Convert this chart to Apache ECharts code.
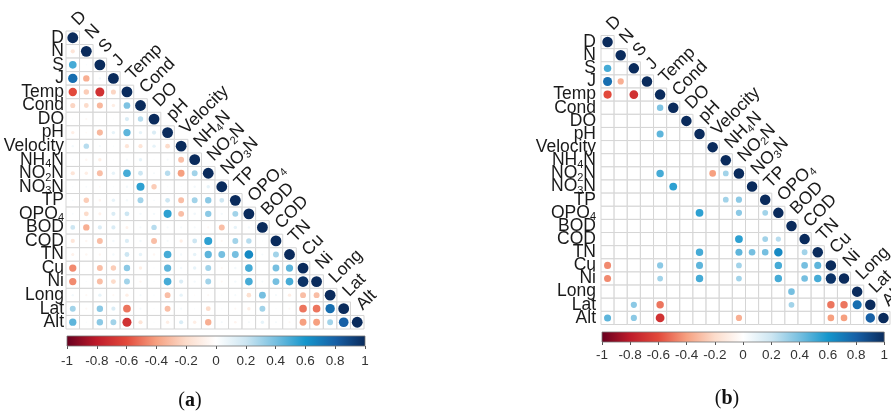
<!DOCTYPE html>
<html><head><meta charset="utf-8">
<script src="https://cdn.jsdelivr.net/npm/echarts@6/dist/echarts.min.js"></script>
<style>html,body{margin:0;padding:0;background:#fff}#c{width:891px;height:416px}</style>
</head><body><div id="c"></div>
<script>
// ---- data ----
const variables = ['D','N','S','J','Temp','Cond','DO','pH','Velocity','NH4N','NO2N','NO3N','TP','OPO4','BOD','COD','TN','Cu','Ni','Long','Lat','Alt'];

// (a) all correlations, lower triangle incl. diagonal (row i: columns 0..i)
const corrA = [
  [1],
  [-0.15, 1],
  [0.5, 0.02, 1],
  [0.75, -0.35, 0.05, 1],
  [-0.6, -0.25, -0.7, -0.22, 1],
  [-0.22, -0.2, -0.32, -0.1, 0.38, 1],
  [0.02, -0.04, 0.02, 0.02, 0.15, 0.25, 1],
  [-0.1, -0.03, -0.32, 0.1, 0.45, 0.1, 0.15, 1],
  [0.05, 0.25, 0.04, 0.02, -0.15, -0.15, 0.1, -0.2, 1],
  [0.02, -0.05, -0.1, 0.02, 0.04, 0.1, 0.02, 0.04, -0.3, 1],
  [-0.15, -0.1, -0.3, 0.1, 0.5, 0.2, 0.04, 0.25, -0.4, 0.3, 1],
  [0.02, 0.03, -0.03, 0.02, 0.05, 0.55, -0.25, 0.02, 0.02, 0.05, 0.1, 1],
  [0.03, -0.25, -0.06, 0.1, 0.05, 0.3, 0.03, 0.2, -0.3, 0.3, 0.35, 0.2, 1],
  [0.03, -0.2, -0.08, 0.15, 0.2, 0.05, 0.05, 0.55, -0.3, 0.06, 0.35, 0.05, 0.3, 1],
  [0.2, -0.35, 0.15, 0.15, -0.08, 0.04, 0.25, 0.04, 0.04, 0.04, -0.04, -0.3, 0.1, 0.05, 1],
  [-0.15, -0.05, -0.3, 0.05, 0.15, 0.05, -0.3, 0.04, -0.1, 0.2, 0.55, -0.04, 0.3, 0.25, 0.02, 1],
  [-0.08, -0.05, -0.05, 0.05, 0.2, 0.1, -0.05, 0.5, 0.05, 0.1, 0.45, 0.4, 0.4, 0.65, 0.04, 0.3, 1],
  [-0.45, 0.0, -0.3, -0.25, 0.35, -0.1, 0.02, 0.45, 0.05, 0.1, 0.3, -0.04, 0.05, 0.5, 0.0, 0.4, 0.45, 1],
  [-0.45, 0.02, -0.3, -0.2, 0.3, -0.05, 0.02, 0.5, 0.15, 0.05, 0.3, -0.04, 0.05, 0.5, 0.04, 0.4, 0.5, 0.97, 1],
  [0.05, -0.04, 0.1, -0.04, -0.1, 0.04, 0.02, -0.3, 0.1, -0.02, -0.04, 0.02, 0.04, -0.18, 0.4, 0.04, -0.1, -0.3, -0.3, 1],
  [0.3, -0.04, 0.35, 0.15, -0.5, 0.04, 0.02, -0.3, 0.04, 0.02, -0.2, 0.02, -0.04, -0.1, 0.3, 0.02, -0.04, -0.5, -0.5, 0.75, 1],
  [0.45, 0.02, 0.35, 0.3, -0.7, -0.15, 0.02, -0.1, 0.15, -0.1, -0.35, 0.04, -0.06, 0.04, 0.1, 0.04, -0.04, -0.4, -0.4, 0.3, 0.8, 1]
];

// (b) significant correlations only (null = not shown)
const corrB = [
  [1],
  [null, 1],
  [0.5, null, 1],
  [0.75, -0.35, null, 1],
  [-0.6, null, -0.7, null, 1],
  [null, null, null, null, 0.38, 1],
  [null, null, null, null, null, null, 1],
  [null, null, null, null, 0.45, null, null, 1],
  [null, null, null, null, null, null, null, null, 1],
  [null, null, null, null, null, null, null, null, null, 1],
  [null, null, null, null, 0.5, null, null, null, -0.4, 0.3, 1],
  [null, null, null, null, null, 0.55, null, null, null, null, null, 1],
  [null, null, null, null, null, null, null, null, null, 0.3, 0.35, null, 1],
  [null, null, null, null, null, null, null, 0.55, null, null, 0.35, null, 0.3, 1],
  [null, null, null, null, null, null, null, null, null, null, null, null, null, null, 1],
  [null, null, null, null, null, null, null, null, null, null, 0.55, null, 0.3, 0.25, null, 1],
  [null, null, null, null, null, null, null, 0.5, null, null, 0.45, 0.4, 0.4, 0.65, null, 0.3, 1],
  [-0.45, null, null, null, 0.35, null, null, 0.45, null, null, 0.3, null, null, 0.5, null, 0.4, 0.45, 1],
  [-0.45, null, null, null, 0.3, null, null, 0.5, null, null, 0.3, null, null, 0.5, null, 0.4, 0.5, 0.97, 1],
  [null, null, null, null, null, null, null, null, null, null, null, null, null, null, 0.4, null, null, null, null, 1],
  [null, null, 0.35, null, -0.5, null, null, null, null, null, null, null, null, null, 0.3, null, null, -0.5, -0.5, 0.75, 1],
  [0.45, null, 0.35, null, -0.7, null, null, null, null, null, -0.35, null, null, null, null, null, null, -0.4, -0.4, null, 0.8, 1]
];

const colorbarMin = -1, colorbarMax = 1, colorbarStep = 0.2;
const palette = ['#67001F','#BE1B2A','#E2493B','#F6A080','#FCDCCB','#FFFFFF','#CDE6F2','#76BFE0','#1596CC','#1760A6','#0A2B5C'];

// ---- build ----
function cells(mat){ const out=[]; mat.forEach((row,i)=>row.forEach((v,j)=>out.push([j,i]))); return out; }
function circles(mat){ const out=[]; mat.forEach((row,i)=>row.forEach((v,j)=>{ if(v!==null) out.push([j,i,v]); })); return out; }
function richName(n){ return n.replace(/(\d)/g,'{s|$1}'); }

const FONT = 'Liberation Sans';
const TXT = '#1a1a1a';
const FS = 17.5;
const richSub = { s: { fontSize: 11, fontFamily: FONT, color: TXT, verticalAlign: 'bottom', lineHeight: 20 } };

function cellItem(params, api){
  const c = api.coord([api.value(0), api.value(1)]);
  const s = api.size([1,1]);
  return {type:'rect', shape:{x:c[0]-s[0]/2, y:c[1]-s[1]/2, width:s[0], height:s[1]},
    style:{fill:'#fff', stroke:'#d5d5d5', lineWidth:1}};
}
function circleItem(params, api){
  const c = api.coord([api.value(0), api.value(1)]);
  const s = api.size([1,1]);
  const v = api.value(2);
  return {type:'circle', shape:{cx:c[0], cy:c[1], r: Math.sqrt(Math.abs(v))*s[0]*0.40},
    style:{fill: api.visual('color')}};
}
function colLabelItem(params, api){
  const i = api.value(0);
  const c = api.coord([i, i]);
  const s = api.size([1,1]);
  return {type:'text', x:c[0]+s[0]*0.15, y:c[1]-s[1]*1.1, rotation:Math.PI/4,
    style:{text: richName(variables[i]), fontSize:FS, fontFamily:FONT, fill:TXT,
      align:'left', verticalAlign:'middle', lineHeight:18, rich: richSub}};
}
function colorbarItem(params, api){
  const p0 = api.coord([colorbarMin, 1]);
  const p1 = api.coord([colorbarMax, 0]);
  return {type:'rect', shape:{x:p0[0], y:p0[1], width:p1[0]-p0[0], height:p1[1]-p0[1]},
    style:{fill: new echarts.graphic.LinearGradient(0,0,1,0, palette.map((c,k)=>({offset:k/(palette.length-1), color:c}))),
      stroke:'#777', lineWidth:0.8}};
}

const matrixX = (g)=>({gridIndex:g, type:'category', data:variables, show:false});
const matrixY = (g, margin)=>({gridIndex:g, type:'category', data:variables, inverse:true,
  axisLine:{show:false}, axisTick:{show:false}, splitLine:{show:false},
  axisLabel:{interval:0, fontSize:FS, fontFamily:FONT, color:TXT, margin:margin, lineHeight:18,
    formatter:(v)=>richName(v), rich: richSub}});
const cbX = (g, margin)=>({gridIndex:g, type:'value', min:colorbarMin, max:colorbarMax, interval:colorbarStep,
  axisLine:{show:false}, splitLine:{show:false},
  axisTick:{show:true, length:3, lineStyle:{color:'#555'}},
  axisLabel:{fontSize:13.5, fontFamily:FONT, color:'#333', margin:margin,
    formatter:(v)=>String(+v.toFixed(1))}});
const cbY = (g)=>({gridIndex:g, type:'value', min:0, max:1, show:false});

const option = {
  backgroundColor:'#fff',
  animation:false,
  grid:[
    {left:66, top:31, width:298, height:298},
    {left:601, top:35.5, width:289, height:289},
    {left:67, top:336, width:298, height:10},
    {left:602, top:332, width:288, height:10}
  ],
  xAxis:[matrixX(0), matrixX(1), cbX(2, 8), cbX(3, 6)],
  yAxis:[matrixY(0, 2), matrixY(1, 5), cbY(2), cbY(3)],
  visualMap:{type:'continuous', show:false, min:colorbarMin, max:colorbarMax, dimension:2, seriesIndex:[1,3],
    inRange:{color: palette}},
  title:[
    {text:'({b|a})', left:185, top:386, textAlign:'center',
      textStyle:{fontFamily:'Liberation Serif', fontSize:20, fontWeight:'normal', color:'#111',
        rich:{b:{fontFamily:'Liberation Serif', fontSize:20, fontWeight:'bold', color:'#111'}}}},
    {text:'({b|b})', left:722, top:384, textAlign:'center',
      textStyle:{fontFamily:'Liberation Serif', fontSize:20, fontWeight:'normal', color:'#111',
        rich:{b:{fontFamily:'Liberation Serif', fontSize:20, fontWeight:'bold', color:'#111'}}}}
  ],
  series:[
    {type:'custom', xAxisIndex:0, yAxisIndex:0, data:cells(corrA), renderItem:cellItem, silent:true},
    {type:'custom', xAxisIndex:0, yAxisIndex:0, data:circles(corrA), renderItem:circleItem, silent:true},
    {type:'custom', xAxisIndex:1, yAxisIndex:1, data:cells(corrB), renderItem:cellItem, silent:true},
    {type:'custom', xAxisIndex:1, yAxisIndex:1, data:circles(corrB), renderItem:circleItem, silent:true},
    {type:'custom', xAxisIndex:0, yAxisIndex:0, data:variables.map((v,i)=>[i,i]), renderItem:colLabelItem, silent:true},
    {type:'custom', xAxisIndex:1, yAxisIndex:1, data:variables.map((v,i)=>[i,i]), renderItem:colLabelItem, silent:true},
    {type:'custom', xAxisIndex:2, yAxisIndex:2, data:[[0,0]], renderItem:colorbarItem, silent:true},
    {type:'custom', xAxisIndex:3, yAxisIndex:3, data:[[0,0]], renderItem:colorbarItem, silent:true}
  ]
};
const chart = echarts.init(document.getElementById('c'), null, {renderer:'canvas'});
chart.setOption(option);
</script>
</body></html>
